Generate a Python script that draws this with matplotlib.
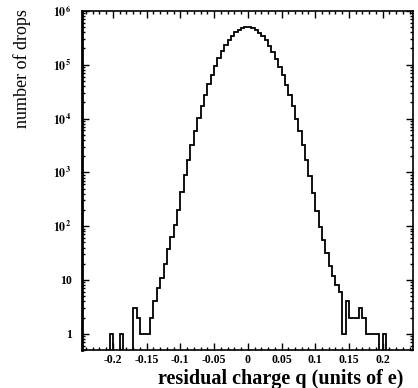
import numpy as np
import matplotlib
matplotlib.use('Agg')
import matplotlib.pyplot as plt
from matplotlib.ticker import MultipleLocator, FixedLocator, FixedFormatter, LogLocator, NullFormatter

plt.rcParams['font.family'] = ['Liberation Serif', 'DejaVu Serif']
plt.rcParams['mathtext.fontset'] = 'stix'

# bin edges of the histogram (width 0.005 in units of e)
edges = np.round(np.arange(-0.240, 0.2401, 0.005), 3)

# counts, left half (-0.240 .. 0) then right half (0 .. 0.240)
counts_left = [0, 0, 0, 0, 0, 0, 0, 1, 0, 0,
               1, 0, 0, 0, 3, 2, 1, 1, 1, 2,
               4, 7, 11, 20, 38, 62, 105, 200, 430, 880,
               1700, 3200, 5900, 10200, 17000, 27500, 43000, 65000, 94000, 131000,
               176000, 228000, 285000, 343000, 398000, 445000, 480000, 498000]
counts_right = [497000, 478000, 443000, 396000, 340000, 283000, 226000, 174000, 129000, 92000,
                64000, 42000, 27000, 16800, 10000, 5800, 3200, 1700, 870, 420,
                190, 95, 55, 32, 18, 12, 8, 6, 1, 4,
                2, 2, 2, 3, 2, 1, 1, 1, 1, 0,
                1, 0, 0, 0, 0, 0, 0, 0]
counts = np.array(counts_left + counts_right, dtype=float)

xticks = [-0.2, -0.15, -0.1, -0.05, 0, 0.05, 0.1, 0.15, 0.2]
xticklabels = ['-0.2', '-0.15', '-0.1', '-0.05', '0', '0.05', '0.1', '0.15', '0.2']
yticks = [1, 10, 1e2, 1e3, 1e4, 1e5, 1e6]
yticklabels = ['1', '10', r'$\mathbf{10^{\,2}}$', r'$\mathbf{10^{\,3}}$', r'$\mathbf{10^{\,4}}$',
               r'$\mathbf{10^{\,5}}$', r'$\mathbf{10^{\,6}}$']

fig = plt.figure(figsize=(4.18, 3.88), dpi=100)
ax = fig.add_axes([0.196, 0.098, 0.792, 0.874])

ax.stairs(counts, edges, color='black', linewidth=1.3)

ax.set_yscale('log')
ax.set_xlim(-0.246, 0.245)
ax.set_ylim(0.5, 1.0e6)

ax.xaxis.set_major_locator(FixedLocator(xticks))
ax.xaxis.set_major_formatter(FixedFormatter(xticklabels))
ax.xaxis.set_minor_locator(MultipleLocator(0.01))
ax.yaxis.set_major_locator(FixedLocator(yticks))
ax.yaxis.set_major_formatter(FixedFormatter(yticklabels))
ax.yaxis.set_minor_locator(LogLocator(base=10, subs=np.arange(2, 10), numticks=20))
ax.yaxis.set_minor_formatter(NullFormatter())

ax.tick_params(which='both', direction='in', top=True, right=True, width=1.0)
ax.tick_params(which='major', length=5)
ax.tick_params(which='minor', length=2.5)
ax.tick_params(axis='x', which='major', labelsize=8.5, pad=3)
ax.tick_params(axis='y', which='major', labelsize=8.5, pad=7)
for lab in ax.get_xticklabels() + ax.get_yticklabels():
    lab.set_fontweight('bold')

for side in ['top', 'right', 'bottom']:
    ax.spines[side].set_linewidth(1.2)
ax.spines['left'].set_linewidth(2.0)

ax.set_xlabel('residual charge q (units of e)', fontsize=14.5, fontweight='bold')
ax.xaxis.set_label_coords(0.60, -0.056)
ax.set_ylabel('number of drops', fontsize=13)
ax.yaxis.set_label_coords(-0.155, 0.83)

fig.savefig('out.png', dpi=100)
